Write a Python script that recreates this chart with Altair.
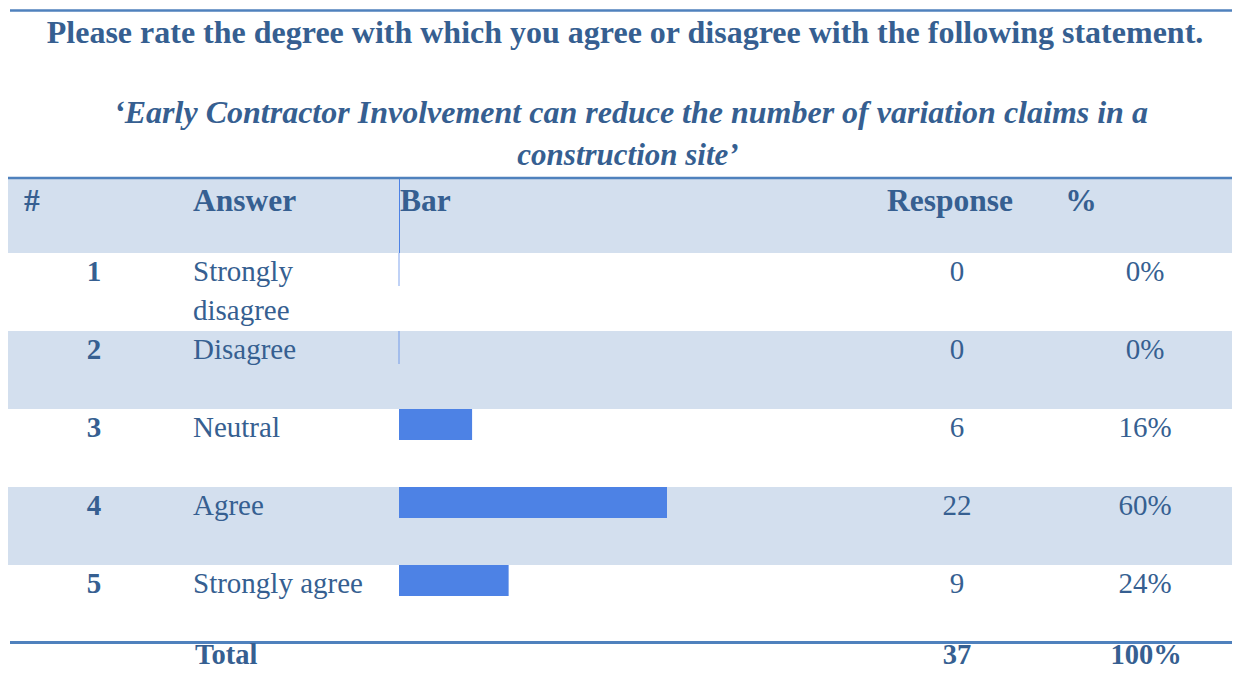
import altair as alt
import pandas as pd

# ---- data ----
title_line1 = "Please rate the degree with which you agree or disagree with the following statement."
title_line2 = "\u2018Early Contractor Involvement can reduce the number of variation claims in a"
title_line3 = "construction site\u2019"

header_labels = ["#", "Answer", "Bar", "Response", "%"]
nums = [1, 2, 3, 4, 5]
answers = ["Strongly disagree", "Disagree", "Neutral", "Agree", "Strongly agree"]
responses = [0, 0, 6, 22, 9]
percents = ["0%", "0%", "16%", "60%", "24%"]
total_label = "Total"
total_response = 37
total_percent = "100%"

# ---- styles ----
FONT = "Liberation Serif"
TXT = "#365F91"
LINE = "#4F81BD"
SHADE = "#D3DFEE"
BAR = "#4D82E5"
W, H = 1224, 663
BODY = 29


def wrap(s):
    return s.replace(" ", "\n", 1) if len(s) > 15 else s


df = pd.DataFrame({
    "num": [str(n) for n in nums],
    "answer": answers,
    "label": [wrap(a) for a in answers],
    "resp": responses,
    "pct": percents,
})
one = pd.DataFrame({"k": [0]})

yrow = alt.Y("num:O", scale=alt.Scale(domain=[str(n) for n in nums], range=[245, 635],
                                      paddingInner=0, paddingOuter=0), axis=None)
xbar = alt.X("resp:Q", scale=alt.Scale(domain=[0, 22], range=[391, 659], nice=False, zero=True), axis=None)

base = alt.Chart(df)

shade_rows = base.mark_rect(color=SHADE).encode(
    y=yrow, x=alt.value(0), x2=alt.value(W)
).transform_filter("toNumber(datum.num) % 2 == 0")

header_band = alt.Chart(one).mark_rect(color=SHADE).encode(
    x=alt.value(0), x2=alt.value(W), y=alt.value(171), y2=alt.value(245))

def hline(y, x0, w):
    return alt.Chart(one).mark_rule(color=LINE, strokeWidth=w).encode(
        x=alt.value(x0), x2=alt.value(W), y=alt.value(y))

lines = [hline(2.5, 2, 2.5), hline(170, 0, 2.5), hline(634.5, 2, 3)]

header_vrule = alt.Chart(one).mark_rule(color=BAR, strokeWidth=1).encode(
    x=alt.value(391.5), y=alt.value(171), y2=alt.value(245))

bars = base.mark_bar(size=31, yOffset=-23.5, color=BAR).encode(
    x=xbar, y=yrow).transform_filter("datum.resp > 0")

zero_ticks = base.mark_tick(orient="vertical", size=33, thickness=1, yOffset=-22.5, color=BAR).encode(
    x=xbar, y=yrow).transform_filter("datum.resp == 0")

num_text = base.mark_text(font=FONT, fontSize=BODY, fontWeight="bold", color=TXT, align="center",
                          baseline="alphabetic", dy=-11).encode(
    x=alt.value(86), y=yrow, text="num:N")

ans_text = base.mark_text(font=FONT, fontSize=BODY, color=TXT, align="left", baseline="alphabetic",
                          dy=-11, lineBreak="\n", lineHeight=39).encode(
    x=alt.value(185), y=yrow, text="label:N")

resp_text = base.mark_text(font=FONT, fontSize=BODY, color=TXT, align="center", baseline="alphabetic",
                           dy=-11).encode(x=alt.value(949), y=yrow, text="resp:Q")

pct_text = base.mark_text(font=FONT, fontSize=BODY, color=TXT, align="center", baseline="alphabetic",
                          dy=-11).encode(x=alt.value(1137), y=yrow, text="pct:N")


def label(text, x, y, size, align="left", weight="bold", style="normal"):
    return alt.Chart(pd.DataFrame({"t": [text]})).mark_text(
        font=FONT, fontSize=size, fontWeight=weight, fontStyle=style, color=TXT,
        align=align, baseline="alphabetic").encode(x=alt.value(x), y=alt.value(y), text="t:N")


titles = [
    label(title_line1, 617, 35, 32, align="center"),
    label(title_line2, 623, 115, 32, align="center", style="italic"),
    label(title_line3, 620, 157, 31, align="center", style="italic"),
]

header_x = {"#": (16, "left"), "Answer": (185, "left"), "Bar": (392, "left"),
            "Response": (942, "center"), "%": (1073, "center")}
headers = [label(h, header_x[h][0], 203, 31.5, align=header_x[h][1]) for h in header_labels]

totals = [
    label(total_label, 187, 656, 28.5),
    label(str(total_response), 949, 656, 28.5, align="center"),
    label(total_percent, 1138, 656, 28.5, align="center"),
]

chart = alt.layer(
    shade_rows, header_band, *lines, header_vrule, bars, zero_ticks,
    num_text, ans_text, resp_text, pct_text, *titles, *headers, *totals
).properties(
    width=W, height=H, padding=0, autosize=alt.AutoSizeParams(type="none")
).configure_view(stroke=None)

chart.save("out.html", embed_options={"renderer": "svg", "actions": False})
